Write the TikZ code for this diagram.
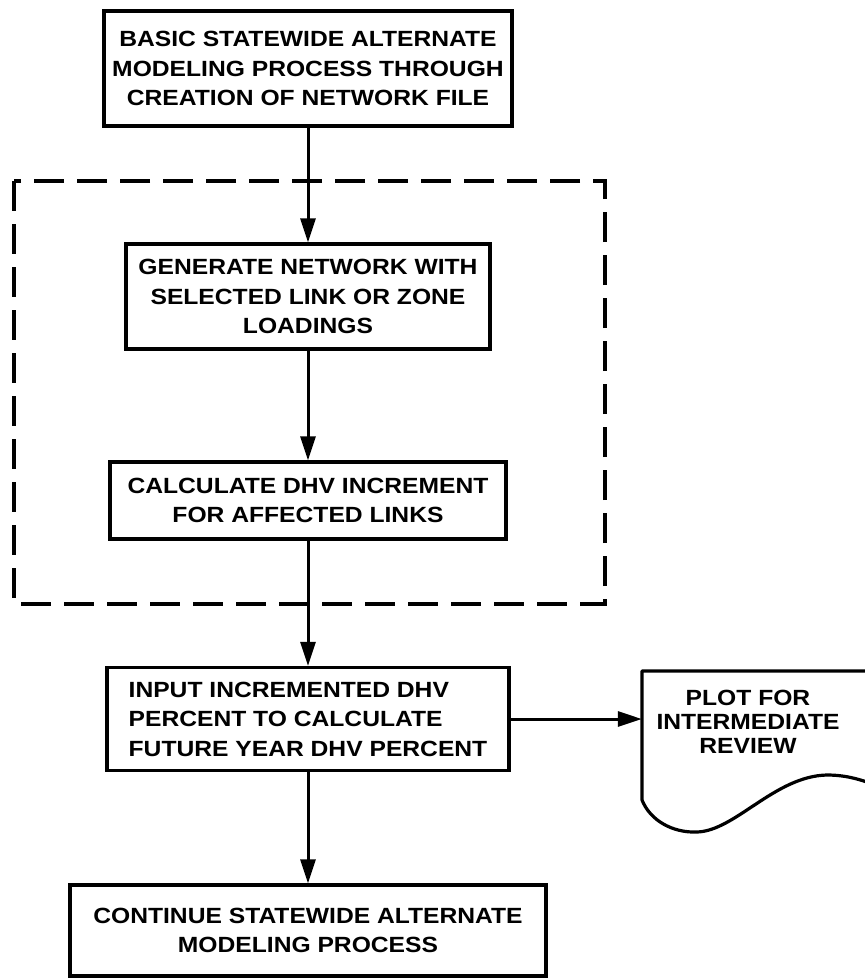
\documentclass[tikz,border=0pt]{standalone}
\usepackage{fontspec}
\setmainfont{Liberation Sans}[FakeStretch=1.12]
\usetikzlibrary{arrows.meta}
\begin{document}
\begin{tikzpicture}[x=1pt,y=-1pt,
  txt/.style={font=\fontsize{22}{29.5}\selectfont\bfseries},
  box/.style={txt,draw,line width=3.2pt,inner sep=0pt,align=center},
  flow/.style={line width=3pt,-{Triangle[length=24pt,width=15pt]}},
  group/.style={line width=3.6pt,dash pattern=on 30pt off 13pt},
]
\useasboundingbox (0,0) rectangle (865,978);
\node[box,minimum width=408pt,minimum height=115pt] (b1) at (308,68.5)
  {BASIC STATEWIDE ALTERNATE\\MODELING PROCESS THROUGH\\CREATION OF NETWORK FILE};
\node[box,minimum width=364pt,minimum height=105pt] (b2) at (308,296.5)
  {GENERATE NETWORK WITH\\SELECTED LINK OR ZONE\\LOADINGS};
\node[box,minimum width=396pt,minimum height=77pt] (b3) at (308,500.5)
  {CALCULATE DHV INCREMENT\\FOR AFFECTED LINKS};
\node[box,align=left,minimum width=402pt,minimum height=103pt] (b4) at (308,719)
  {INPUT INCREMENTED DHV\\PERCENT TO CALCULATE\\FUTURE YEAR DHV PERCENT};
\node[box,minimum width=476pt,minimum height=91pt] (b5) at (308,930.5)
  {CONTINUE STATEWIDE ALTERNATE\\MODELING PROCESS};
% dashed grouping frame
\draw[group] (14,181) rectangle (605,604);
% document shape
\node[txt,align=center,inner sep=0pt,minimum width=212pt,font=\fontsize{22}{24}\selectfont\bfseries] (doc) at (748,722)
  {PLOT FOR\\INTERMEDIATE\\REVIEW};
\draw[line width=3.2pt,line join=round] (875,671) -- (642,671) -- (642,800)
  .. controls (650,820) and (672,833) .. (697,832)
  .. controls (735,831) and (775,776) .. (827,775)
  .. controls (847,775) and (862,780) .. (878,786);
% connectors
\draw[flow] (b1) -- (b2);
\draw[flow] (b2) -- (b3);
\draw[flow] (b3) -- (b4);
\draw[flow] (b4) -- (b5);
\draw[flow] (b4.east) -- (b4.east -| doc.west);
\end{tikzpicture}
\end{document}
